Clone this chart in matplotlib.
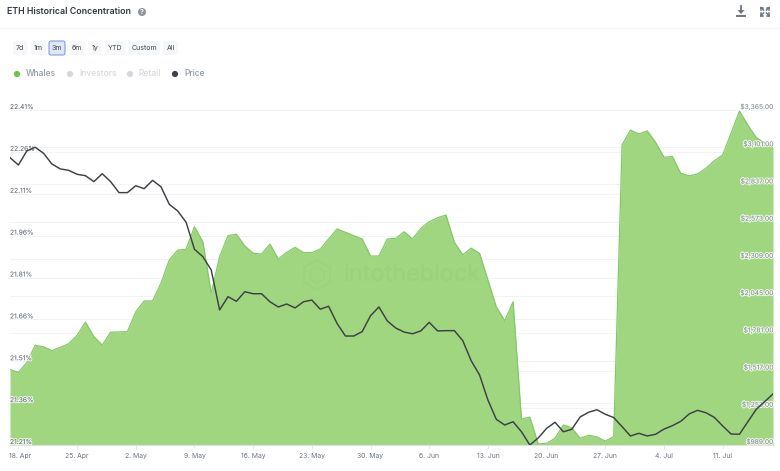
import matplotlib
matplotlib.use("Agg")
import matplotlib.pyplot as plt
import matplotlib.patheffects as pe
from matplotlib.patches import FancyBboxPatch, Circle, RegularPolygon
from matplotlib.transforms import ScaledTranslation
import numpy as np
import pandas as pd

plt.rcParams['font.family'] = ['Inter', 'DejaVu Sans']

dates = pd.date_range('2022-04-17', periods=92)

whales = [21.48, 21.47, 21.505, 21.567, 21.562, 21.548, 21.56, 21.573, 21.603, 21.65,
          21.598, 21.568, 21.614, 21.615, 21.616, 21.687, 21.726, 21.726, 21.789, 21.873,
          21.908, 21.911, 21.992, 21.938, 21.754, 21.885, 21.96, 21.965, 21.923, 21.897,
          21.894, 21.93, 21.876, 21.90, 21.918, 21.899, 21.899, 21.912, 21.948, 21.984,
          21.972, 21.96, 21.948, 21.887, 21.887, 21.948, 21.95, 21.974, 21.948, 21.986,
          22.01, 22.024, 22.034, 21.936, 21.891, 21.915, 21.897, 21.801, 21.705, 21.655,
          21.723, 21.303, 21.31, 21.214, 21.216, 21.234, 21.282, 21.271, 21.234, 21.245,
          21.239, 21.224, 21.24, 22.285, 22.338, 22.324, 22.335, 22.294, 22.241, 22.243,
          22.183, 22.174, 22.181, 22.201, 22.228, 22.249, 22.327, 22.406, 22.356, 22.311,
          22.293, 22.276]

price = [3027, 2975, 3074, 3101, 3058, 2982, 2947, 2937, 2909, 2899,
         2857, 2913, 2857, 2779, 2779, 2828, 2807, 2866, 2821, 2696,
         2649, 2569, 2377, 2325, 2230, 1947, 2041, 2008, 2076, 2062,
         2062, 2005, 1968, 1989, 1961, 2005, 2017, 1952, 1973, 1852,
         1762, 1762, 1793, 1906, 1968, 1869, 1819, 1790, 1778, 1798,
         1859, 1798, 1800, 1800, 1729, 1587, 1486, 1308, 1171, 1131,
         1154, 1083, 989, 1039, 1107, 1150, 1083, 1100, 1188, 1221,
         1239, 1207, 1184, 1119, 1053, 1072, 1053, 1065, 1102, 1126,
         1157, 1209, 1235, 1218, 1185, 1124, 1067, 1065, 1154, 1242,
         1296, 1351]

pct_ticks = [21.21, 21.36, 21.51, 21.66, 21.81, 21.96, 22.11, 22.26, 22.41]
usd_ticks = [989, 1253, 1517, 1781, 2045, 2309, 2573, 2837, 3101, 3365]
date_ticks = ['2022-04-18', '2022-04-25', '2022-05-02', '2022-05-09', '2022-05-16', '2022-05-23',
              '2022-05-30', '2022-06-06', '2022-06-13', '2022-06-20', '2022-06-27', '2022-07-04',
              '2022-07-11']
date_labels = ['18. Apr', '25. Apr', '2. May', '9. May', '16. May', '23. May', '30. May',
               '6. Jun', '13. Jun', '20. Jun', '27. Jun', '4. Jul', '11. Jul']
ranges = ['7d', '1m', '3m', '6m', '1y', 'YTD', 'Custom', 'All']
legend_names = ['Whales', 'Investors', 'Retail', 'Price']

W, H = 780, 471
fig = plt.figure(figsize=(W / 100, H / 100), dpi=100, facecolor='white')
ax = fig.add_axes([10 / W, (H - 445) / H, 763 / W, 335 / H])
ax2 = ax.twinx()
halo = [pe.withStroke(linewidth=1.5, foreground='white', alpha=0.8)]

ax.set_xlim(dates[0], dates[-1])
ax.set_ylim(21.21, 22.41)
ax2.set_ylim(989, 3365)

# light grid of both scales, underneath the area
grid_c = '#f2f3f5'
ax.hlines(pct_ticks, dates[0], dates[-1], color=grid_c, lw=0.7, zorder=0)
ax.hlines(np.interp(usd_ticks, [989, 3365], [21.21, 22.41]), dates[0], dates[-1],
          color=grid_c, lw=0.7, zorder=0)

ax.fill_between(dates, whales, 21.21, color='#a0d680', lw=0, zorder=1)
ax.plot(dates, whales, color='#84c867', lw=0.9, zorder=1.5)
ax2.plot(dates, price, color='#3c4047', lw=1.05, solid_joinstyle='round')

for s in ['top', 'left', 'right']:
    ax.spines[s].set_visible(False)
    ax2.spines[s].set_visible(False)
ax2.spines['bottom'].set_visible(False)
ax.spines['bottom'].set_color('#dfe3e8')
ax.spines['bottom'].set_linewidth(0.7)

ax.set_xticks(pd.to_datetime(date_ticks))
ax.set_xticklabels(date_labels)
ax.tick_params(axis='x', length=3, width=0.6, color='#dfe3e8', pad=2.5, labelsize=4.9,
               labelcolor='#6b7480')
first = ax.get_xticklabels()[0]
first.set_transform(first.get_transform() + ScaledTranslation(2 / 100, 0, fig.dpi_scale_trans))

ax.set_yticks(pct_ticks)
ax.set_yticklabels([f'{t:.2f}%' for t in pct_ticks])
ax.tick_params(axis='y', length=0, pad=0, labelsize=4.8, labelcolor='#5c6470')
for t in ax.get_yticklabels():
    t.set_ha('left')
    t.set_va('bottom')
    t.set_path_effects(halo)

ax2.set_yticks(usd_ticks)
ax2.set_yticklabels([f'${t:,.2f}' for t in usd_ticks])
ax2.tick_params(axis='y', length=0, pad=0, labelsize=4.8, labelcolor='#7d8590')
for t in ax2.get_yticklabels():
    t.set_ha('right')
    t.set_va('bottom')
    t.set_path_effects(halo)

# page furniture, in pixel coordinates of the picture
ov = fig.add_axes([0, 0, 1, 1], facecolor='none', zorder=5)
ov.set_xlim(0, W)
ov.set_ylim(H, 0)
ov.axis('off')

ov.plot([0, W], [28, 28], color='#f2f3f5', lw=0.8)
ov.text(7, 11.5, 'ETH Historical Concentration', fontsize=6.35, fontweight='semibold',
        color='#2f3742', va='center', ha='left')
ov.add_patch(Circle((142, 12), 4, color='#8d939b', lw=0))
ov.text(142, 12, '?', fontsize=5, color='white', ha='center', va='center', fontweight='bold')

# download icon
ov.plot([741, 741], [6, 12], color='#6f7680', lw=1.3)
ov.fill([737.5, 744.5, 741], [10, 10, 14], color='#6f7680', lw=0)
ov.plot([737, 745], [15.5, 15.5], color='#6f7680', lw=1.4)
# expand icon
for dx, dy in [(-1, -1), (1, -1), (-1, 1), (1, 1)]:
    cx, cy = 765 + dx * 3.5, 11.5 + dy * 3.5
    ov.plot([cx - dx * 2, cx + dx * 0.5], [cy - dy * 2, cy + dy * 0.5], color='#6f7680', lw=1.1)
    ov.plot([cx + dx * 0.5, cx + dx * 0.5 - dx * 2.2], [cy + dy * 0.5, cy + dy * 0.5], color='#6f7680', lw=1.1)
    ov.plot([cx + dx * 0.5, cx + dx * 0.5], [cy + dy * 0.5, cy + dy * 0.5 - dy * 2.2], color='#6f7680', lw=1.1)

# range buttons
boxes = [(13, 27), (31, 46), (49, 65), (69, 85), (89, 101), (105, 125), (129, 160), (163, 178)]
for name, (x0, x1) in zip(ranges, boxes):
    sel = name == '3m'
    ov.add_patch(FancyBboxPatch((x0 + 1, 42), x1 - x0 - 2, 12,
                                boxstyle='round,pad=1,rounding_size=2',
                                fc='#dfe6f7' if sel else '#f6f7f8',
                                ec='#7f9fe0' if sel else 'none', lw=0.8))
    ov.text((x0 + x1) / 2, 48.3, name, fontsize=5.1, color='#3f4752', ha='center', va='center')

# legend
leg_x = [(17, 26), (70, 79), (130, 138), (175, 184)]
leg_dot = ['#6cc24a', '#d3d6da', '#d3d6da', '#3c4047']
leg_txt = ['#8f99a6', '#d5d8dc', '#d5d8dc', '#8f99a6']
for name, (dx, tx), dc, tc in zip(legend_names, leg_x, leg_dot, leg_txt):
    ov.add_patch(Circle((dx, 74), 3.1, color=dc, lw=0))
    ov.text(tx, 73.5, name, fontsize=6.1, color=tc, ha='left', va='center', fontweight='medium')

# watermark
wm = '#99d27a'
ov.text(344, 275, 'intotheblock', fontsize=16.6, color=wm, ha='left', va='center', fontweight='medium')
ov.add_patch(RegularPolygon((317, 275), 6, radius=15, fc='none', ec=wm, lw=1.0))
ov.add_patch(RegularPolygon((317, 275), 6, radius=8, fc='none', ec=wm, lw=0.8))

fig.savefig('out.png', dpi=100, facecolor='white')
